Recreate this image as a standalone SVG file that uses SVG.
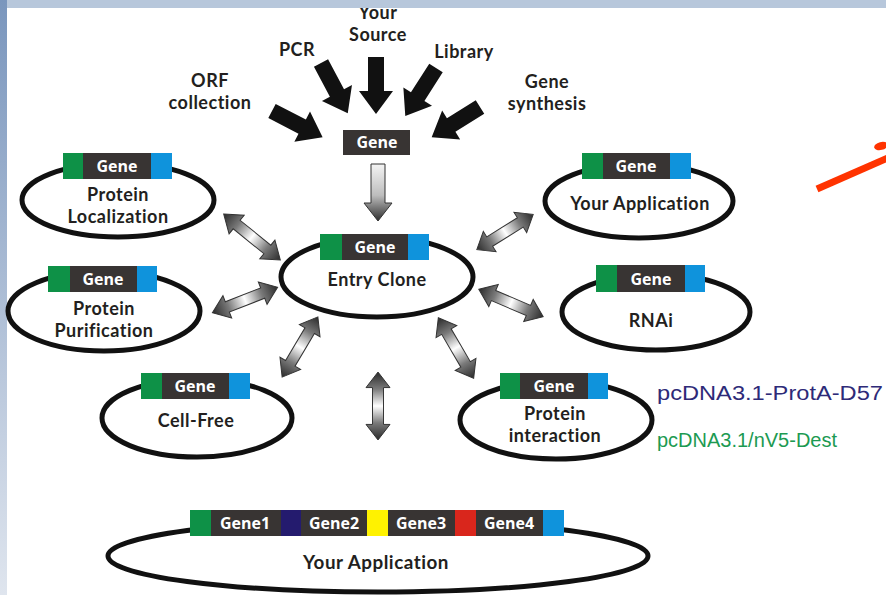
<svg xmlns="http://www.w3.org/2000/svg" width="886" height="595" viewBox="0 0 886 595">
<defs>
<linearGradient id="lb" x1="0" y1="0" x2="0" y2="1"><stop offset="0" stop-color="#7a96bd"/><stop offset="1" stop-color="#dfe5ee"/></linearGradient>
<linearGradient id="dg" gradientUnits="userSpaceOnUse" x1="-35" y1="0" x2="35" y2="0"><stop offset="0" stop-color="#2a2a2a"/><stop offset="0.25" stop-color="#7a7a7a"/><stop offset="0.5" stop-color="#ffffff"/><stop offset="0.75" stop-color="#7a7a7a"/><stop offset="1" stop-color="#2a2a2a"/></linearGradient>
<linearGradient id="sg" x1="0" y1="0" x2="0" y2="1"><stop offset="0" stop-color="#f4f4f4"/><stop offset="0.55" stop-color="#bdbdbd"/><stop offset="1" stop-color="#2e2e2e"/></linearGradient>
<path id="ba" d="M0,-8 L34,-8 L34,-17 L57,0 L34,17 L34,8 L0,8 Z" fill="#111"/>
<path id="da" d="M-35,0 L-19,-12 L-19,-5.5 L19,-5.5 L19,-12 L35,0 L19,12 L19,5.5 L-19,5.5 L-19,12 Z" fill="url(#dg)" stroke="#333" stroke-width="1"/>
</defs>
<style>
.t{font-family:Lato,"Open Sans","Liberation Sans",sans-serif;font-weight:700;font-size:18px;letter-spacing:0.5px;fill:#231f20;text-anchor:middle}
.g{font-family:"Open Sans","Liberation Sans",sans-serif;font-weight:700;font-size:16px;fill:#fff;text-anchor:middle}
.ring{fill:#fff;stroke:#111;stroke-width:5}
.gr{fill:#0e9147}.dk{fill:#383433}.bl{fill:#0f93dc}
.v{font-family:"Liberation Sans",Arial,sans-serif;font-size:20px}
</style>
<rect x="0" y="0" width="886" height="595" fill="#fff"/>
<rect x="0" y="0" width="7" height="595" fill="url(#lb)"/>

<g id="sources">
<text class="t" x="210" y="87">ORF</text><text class="t" x="210" y="109">collection</text>
<text class="t" x="297" y="56">PCR</text>
<text class="t" x="378" y="19">Your</text><text class="t" x="378" y="41">Source</text>
<text class="t" x="464" y="58">Library</text>
<text class="t" x="547" y="88">Gene</text><text class="t" x="547" y="110">synthesis</text>
</g>

<g id="connectors">
<use href="#ba" transform="translate(272,111) rotate(27.4)"/>
<use href="#ba" transform="translate(321,63) rotate(62)"/>
<use href="#ba" transform="translate(376,57) rotate(90)"/>
<use href="#ba" transform="translate(436,68) rotate(122.6)"/>
<use href="#ba" transform="translate(480,107) rotate(148)"/>
<path d="M371,164 L385,164 L385,203 L392,203 L378,221 L364,203 L371,203 Z" fill="url(#sg)" stroke="#333" stroke-width="1"/>
<use href="#da" transform="translate(252,237) rotate(39) scale(1.04,1)"/>
<use href="#da" transform="translate(245,300) rotate(-21.3)"/>
<use href="#da" transform="translate(505,232) rotate(-32) scale(0.95,1)"/>
<use href="#da" transform="translate(511,303) rotate(23.2)"/>
<use href="#da" transform="translate(300,347) rotate(120.7)"/>
<use href="#da" transform="translate(456,348) rotate(59.7)"/>
<use href="#da" transform="translate(378,406) rotate(90) scale(0.97,1)"/>
</g>

<g id="gene">
<rect class="dk" x="343" y="130" width="67" height="25"/>
<text class="g" x="377" y="148">Gene</text>
</g>

<g id="entry-clone">
<ellipse class="ring" cx="377" cy="277" rx="96" ry="40"/>
<rect class="gr" x="320" y="234" width="22" height="26"/><rect class="dk" x="342" y="234" width="66" height="26"/><rect class="bl" x="408" y="234" width="21" height="26"/>
<text class="g" x="375" y="253">Gene</text>
<text class="t" x="377" y="286">Entry Clone</text>
</g>

<g id="protein-localization">
<ellipse class="ring" cx="118" cy="200" rx="96" ry="37"/>
<rect class="gr" x="63" y="153" width="20" height="26"/><rect class="dk" x="83" y="153" width="68" height="26"/><rect class="bl" x="151" y="153" width="21" height="26"/>
<text class="g" x="117" y="172">Gene</text>
<text class="t" x="118" y="201">Protein</text><text class="t" x="118" y="223">Localization</text>
</g>

<g id="protein-purification">
<ellipse class="ring" cx="104" cy="311" rx="96" ry="40"/>
<rect class="gr" x="48" y="266" width="22" height="26"/><rect class="dk" x="70" y="266" width="67" height="26"/><rect class="bl" x="137" y="266" width="20" height="26"/>
<text class="g" x="103" y="285">Gene</text>
<text class="t" x="104" y="315">Protein</text><text class="t" x="104" y="337">Purification</text>
</g>

<g id="your-application-top">
<ellipse class="ring" cx="639" cy="201" rx="94" ry="37"/>
<rect class="gr" x="582" y="153" width="21" height="26"/><rect class="dk" x="603" y="153" width="67" height="26"/><rect class="bl" x="670" y="153" width="21" height="26"/>
<text class="g" x="636" y="172">Gene</text>
<text class="t" x="640" y="210">Your Application</text>
</g>

<g id="rnai">
<ellipse class="ring" cx="656" cy="312" rx="94" ry="38"/>
<rect class="gr" x="596" y="265" width="21" height="27"/><rect class="dk" x="617" y="265" width="68" height="27"/><rect class="bl" x="685" y="265" width="20" height="27"/>
<text class="g" x="651" y="285">Gene</text>
<text class="t" x="651" y="327">RNAi</text>
</g>

<g id="cell-free">
<ellipse class="ring" cx="197" cy="418" rx="95" ry="39"/>
<rect class="gr" x="141" y="373" width="21" height="26"/><rect class="dk" x="162" y="373" width="67" height="26"/><rect class="bl" x="229" y="373" width="21" height="26"/>
<text class="g" x="195" y="392">Gene</text>
<text class="t" x="196" y="427">Cell-Free</text>
</g>

<g id="protein-interaction">
<ellipse class="ring" cx="556" cy="420" rx="96" ry="39"/>
<rect class="gr" x="500" y="373" width="20" height="26"/><rect class="dk" x="520" y="373" width="68" height="26"/><rect class="bl" x="588" y="373" width="20" height="26"/>
<text class="g" x="554" y="392">Gene</text>
<text class="t" x="555" y="420">Protein</text><text class="t" x="555" y="442">interaction</text>
</g>

<g id="your-application-bottom">
<ellipse class="ring" cx="378" cy="556" rx="270" ry="36"/>
<rect class="gr" x="190" y="510" width="21" height="26"/>
<rect class="dk" x="211" y="510" width="70" height="26"/>
<rect x="281" y="510" width="20" height="26" fill="#241b6e"/>
<rect class="dk" x="301" y="510" width="66" height="26"/>
<rect x="367" y="510" width="21" height="26" fill="#fff200"/>
<rect class="dk" x="388" y="510" width="67" height="26"/>
<rect x="455" y="510" width="21" height="26" fill="#d9261c"/>
<rect class="dk" x="476" y="510" width="67" height="26"/>
<rect class="bl" x="543" y="510" width="21" height="26"/>
<text class="g" x="245" y="529" textLength="50" lengthAdjust="spacingAndGlyphs">Gene1</text>
<text class="g" x="334" y="529" textLength="50" lengthAdjust="spacingAndGlyphs">Gene2</text>
<text class="g" x="421" y="529" textLength="50" lengthAdjust="spacingAndGlyphs">Gene3</text>
<text class="g" x="509" y="529" textLength="50" lengthAdjust="spacingAndGlyphs">Gene4</text>
<text class="t" x="376" y="569" textLength="146" lengthAdjust="spacingAndGlyphs">Your Application</text>
</g>

<g id="vectors">
<text class="v" x="657" y="400" fill="#2e2a78" textLength="226" lengthAdjust="spacingAndGlyphs">pcDNA3.1-ProtA-D57</text>
<text class="v" x="657" y="447" fill="#1c9a52" textLength="180" lengthAdjust="spacingAndGlyphs">pcDNA3.1/nV5-Dest</text>
</g>

<g id="red-arrow">
<line x1="817" y1="189" x2="890" y2="157" stroke="#ff3300" stroke-width="7"/>
<ellipse cx="881" cy="146" rx="7" ry="4" transform="rotate(-15 881 146)" fill="#ff3300"/>
</g>

<rect x="7" y="0" width="879" height="8" fill="#b7c7db"/>
</svg>
